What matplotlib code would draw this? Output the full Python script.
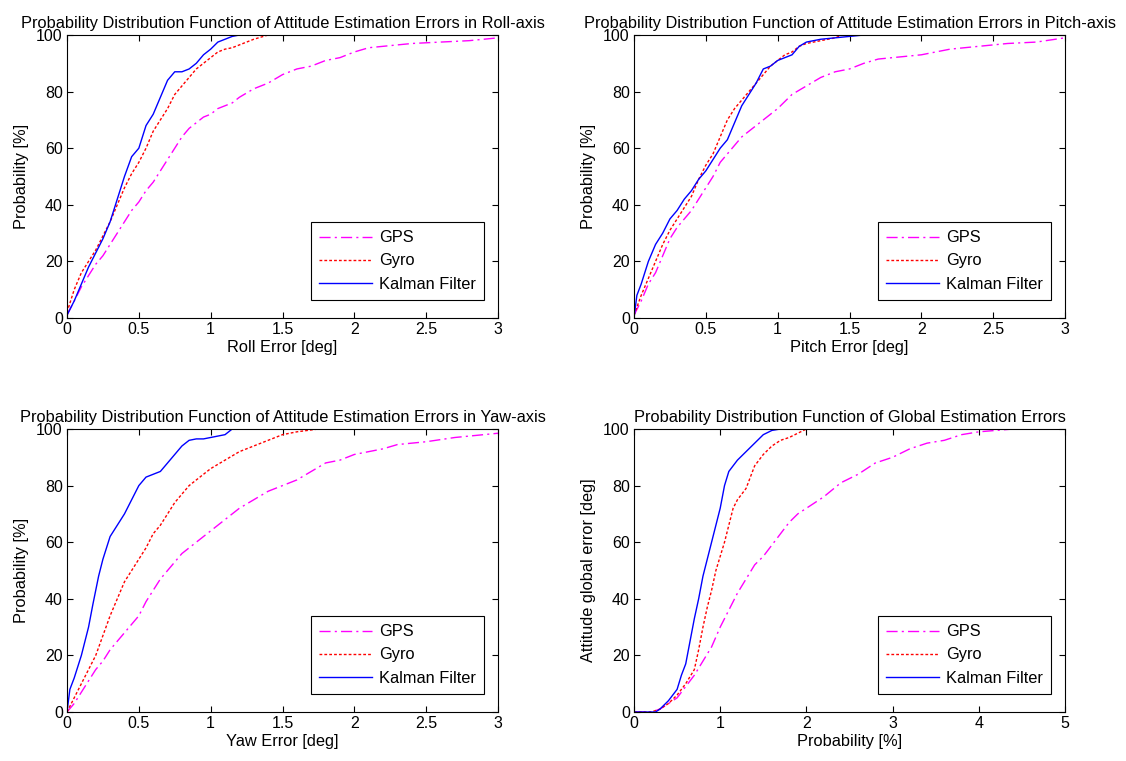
import matplotlib
matplotlib.use("Agg")
import matplotlib.pyplot as plt
from matplotlib.ticker import FormatStrFormatter

plt.rcParams['font.family'] = ['Liberation Sans', 'DejaVu Sans']
plt.rcParams['font.size'] = 11.8

# Roll
roll_kf_x = [0, 0.05, 0.1, 0.15, 0.2, 0.25, 0.3, 0.35, 0.4, 0.45, 0.5, 0.55, 0.6, 0.65, 0.7, 0.75, 0.8, 0.85, 0.9, 0.95, 1.0, 1.05, 1.1, 1.15, 1.2, 1.28]
roll_kf_y = [1, 6, 12, 18, 23, 28, 34, 42, 50, 57, 60, 68, 72, 78, 84, 87, 87, 88, 90, 93, 95, 97.5, 98.5, 99.5, 100, 100]
roll_gyro_x = [0, 0.05, 0.1, 0.15, 0.2, 0.25, 0.3, 0.35, 0.4, 0.45, 0.5, 0.55, 0.6, 0.65, 0.7, 0.75, 0.8, 0.85, 0.9, 0.95, 1.0, 1.05, 1.1, 1.15, 1.2, 1.3, 1.4]
roll_gyro_y = [2, 10, 16, 20, 24, 29, 34, 40, 46, 51, 55, 60, 66, 70, 74, 79, 82, 85, 88, 90, 92, 94, 95, 95.5, 96.5, 98.5, 100]
roll_gps_x = [0, 0.05, 0.1, 0.15, 0.2, 0.25, 0.3, 0.35, 0.4, 0.45, 0.5, 0.55, 0.6, 0.65, 0.7, 0.75, 0.8, 0.85, 0.9, 0.95, 1.0, 1.05, 1.1, 1.15, 1.2, 1.3, 1.4, 1.5, 1.6, 1.7, 1.8, 1.9, 2.0, 2.1, 2.2, 2.4, 2.6, 2.8, 3.0]
roll_gps_y = [1, 6, 11, 15, 19, 22, 26, 30, 34, 38, 41, 45, 48, 52, 56, 60, 64, 67, 69, 71, 72, 74, 75, 76, 78, 81, 83, 86, 88, 89, 91, 92, 94, 95.5, 96, 97, 97.5, 98, 99]

# Pitch
pitch_kf_x = [0, 0.02, 0.05, 0.1, 0.15, 0.2, 0.25, 0.3, 0.35, 0.4, 0.45, 0.5, 0.55, 0.6, 0.65, 0.7, 0.75, 0.8, 0.85, 0.9, 0.95, 1.0, 1.05, 1.1, 1.15, 1.2, 1.3, 1.4, 1.5, 1.6]
pitch_kf_y = [0, 8, 12, 20, 26, 30, 35, 38, 42, 45, 49, 52, 56, 60, 63, 69, 75, 79, 83, 88, 89, 91, 92, 93, 96, 97.5, 98.5, 99, 99.5, 100]
pitch_gyro_x = [0, 0.05, 0.1, 0.15, 0.2, 0.25, 0.3, 0.35, 0.4, 0.45, 0.5, 0.55, 0.6, 0.65, 0.7, 0.75, 0.8, 0.85, 0.9, 0.95, 1.0, 1.05, 1.1, 1.15, 1.2, 1.3, 1.4, 1.45, 1.55]
pitch_gyro_y = [1, 8, 14, 20, 26, 31, 35, 39, 43, 49, 54, 58, 64, 70, 74, 77, 80, 83, 86, 89, 91, 93, 94, 96, 97, 98, 99, 100, 100]
pitch_gps_x = [0, 0.05, 0.1, 0.15, 0.2, 0.25, 0.3, 0.35, 0.4, 0.45, 0.5, 0.55, 0.6, 0.65, 0.7, 0.75, 0.8, 0.85, 0.9, 0.95, 1.0, 1.1, 1.2, 1.3, 1.4, 1.5, 1.6, 1.7, 1.8, 2.0, 2.2, 2.4, 2.6, 2.8, 3.0]
pitch_gps_y = [1, 6, 12, 16, 22, 28, 32, 35, 38, 42, 46, 50, 55, 58, 61, 64, 66, 68, 70, 72, 74, 79, 82, 85, 87, 88, 90, 91.5, 92, 93, 95, 96, 97, 97.5, 99]

# Yaw
yaw_kf_x = [0, 0.02, 0.05, 0.1, 0.15, 0.18, 0.22, 0.25, 0.3, 0.35, 0.4, 0.45, 0.5, 0.55, 0.6, 0.65, 0.7, 0.75, 0.8, 0.85, 0.9, 0.95, 1.0, 1.1, 1.15]
yaw_kf_y = [0, 8, 12, 20, 30, 38, 48, 54, 62, 66, 70, 75, 80, 83, 84, 85, 88, 91, 94, 96, 96.5, 96.5, 97, 98, 100]
yaw_gyro_x = [0, 0.05, 0.1, 0.15, 0.2, 0.25, 0.3, 0.35, 0.4, 0.45, 0.5, 0.55, 0.6, 0.65, 0.7, 0.75, 0.8, 0.85, 0.9, 1.0, 1.1, 1.2, 1.3, 1.4, 1.5, 1.6, 1.75]
yaw_gyro_y = [0, 5, 10, 15, 20, 27, 34, 40, 46, 50, 54, 58, 63, 66, 70, 74, 77, 80, 82, 86, 89, 92, 94, 96, 98, 99, 100]
yaw_gps_x = [0, 0.05, 0.1, 0.15, 0.2, 0.25, 0.3, 0.35, 0.4, 0.45, 0.5, 0.55, 0.6, 0.65, 0.7, 0.75, 0.8, 0.85, 0.9, 0.95, 1.0, 1.1, 1.2, 1.3, 1.4, 1.5, 1.6, 1.7, 1.8, 1.9, 2.0, 2.1, 2.2, 2.3, 2.5, 2.7, 2.9, 3.0]
yaw_gps_y = [0, 3, 7, 11, 15, 18, 22, 25, 28, 31, 34, 39, 43, 47, 50, 53, 56, 58, 60, 62, 64, 68, 72, 75, 78, 80, 82, 85, 88, 89, 91, 92, 93, 94.5, 95.5, 97, 98, 98.5]

# Global
glob_kf_x = [0, 0.25, 0.3, 0.4, 0.5, 0.55, 0.6, 0.65, 0.7, 0.75, 0.8, 0.85, 0.9, 0.95, 1.0, 1.05, 1.1, 1.2, 1.3, 1.4, 1.5, 1.6, 1.7]
glob_kf_y = [0, 0, 1, 4, 8, 13, 17, 25, 33, 40, 48, 54, 60, 66, 72, 80, 85, 89, 92, 95, 98, 99.5, 100]
glob_gyro_x = [0, 0.2, 0.3, 0.4, 0.5, 0.6, 0.7, 0.75, 0.8, 0.85, 0.9, 0.95, 1.0, 1.05, 1.1, 1.15, 1.2, 1.3, 1.4, 1.5, 1.6, 1.7, 1.8, 1.9, 2.0]
glob_gyro_y = [0, 0, 1, 3, 6, 10, 15, 22, 30, 37, 43, 50, 55, 60, 66, 72, 75, 79, 87, 91, 94, 96, 97, 98.5, 100]
glob_gps_x = [0, 0.2, 0.3, 0.5, 0.6, 0.7, 0.8, 0.9, 1.0, 1.1, 1.2, 1.3, 1.4, 1.5, 1.6, 1.7, 1.8, 1.9, 2.0, 2.2, 2.4, 2.6, 2.8, 3.0, 3.2, 3.4, 3.6, 3.8, 4.0, 4.4, 5.0]
glob_gps_y = [0, 0, 1, 5, 9, 13, 18, 23, 30, 36, 42, 47, 52, 55, 59, 63, 67, 70, 72, 76, 81, 84, 88, 90, 93, 95, 96, 98, 99, 100, 100]

titulos = [
    'Probability Distribution Function of Attitude Estimation Errors in Roll-axis',
    'Probability Distribution Function of Attitude Estimation Errors in Pitch-axis',
    'Probability Distribution Function of Attitude Estimation Errors in Yaw-axis',
    'Probability Distribution Function of Global Estimation Errors',
]
xlabels = ['Roll Error [deg]', 'Pitch Error [deg]', 'Yaw Error [deg]', 'Probability [%]']
ylabels = ['Probability [%]', 'Probability [%]', 'Probability [%]', 'Attitude global error [deg]']
xmax = [3, 3, 3, 5]
xstep = [0.5, 0.5, 0.5, 1]

curvas = [
    (roll_gps_x, roll_gps_y, roll_gyro_x, roll_gyro_y, roll_kf_x, roll_kf_y),
    (pitch_gps_x, pitch_gps_y, pitch_gyro_x, pitch_gyro_y, pitch_kf_x, pitch_kf_y),
    (yaw_gps_x, yaw_gps_y, yaw_gyro_x, yaw_gyro_y, yaw_kf_x, yaw_kf_y),
    (glob_gps_x, glob_gps_y, glob_gyro_x, glob_gyro_y, glob_kf_x, glob_kf_y),
]

W, H = 1126, 761
posicoes = [
    (67, 35), (634, 35), (67, 429), (634, 429),
]
aw, ah = 431, 283

fig = plt.figure(figsize=(W / 100, H / 100), dpi=100)

for i in range(4):
    px, py = posicoes[i]
    ax = fig.add_axes([px / W, 1 - (py + ah) / H, aw / W, ah / H])
    gx, gy, yx, yy, kx, ky = curvas[i]
    ax.plot(gx, gy, color='#FF00FF', linestyle=(0, (8, 3, 1.5, 3)), linewidth=1, label='GPS')
    ax.plot(yx, yy, color='#FF0000', linestyle=(0, (2, 1.5)), linewidth=1, label='Gyro')
    ax.plot(kx, ky, color='#0000FF', linestyle='-', linewidth=1, label='Kalman Filter')

    ax.set_xlim(0, xmax[i])
    ax.set_ylim(0, 100)
    n = int(round(xmax[i] / xstep[i]))
    ax.set_xticks([k * xstep[i] for k in range(n + 1)])
    ax.set_yticks(range(0, 101, 20))
    ax.xaxis.set_major_formatter(FormatStrFormatter('%g'))
    ax.tick_params(direction='in', top=True, right=True, length=4, labelsize=11.5, pad=3)
    ax.set_title(titulos[i], fontsize=11.8, pad=5)
    ax.set_xlabel(xlabels[i], fontsize=11.8, labelpad=2)
    ax.set_ylabel(ylabels[i], fontsize=11.8, labelpad=5)
    for s in ax.spines.values():
        s.set_linewidth(0.8)

    leg = ax.legend(loc='lower right', bbox_to_anchor=(0.968, 0.064), borderaxespad=0,
                    fancybox=False, edgecolor='black', framealpha=1, fontsize=11.8,
                    handlelength=3.2, handletextpad=0.45, borderpad=0.5, labelspacing=0.5)
    leg.get_frame().set_linewidth(0.8)

fig.savefig('out.png', dpi=100)
